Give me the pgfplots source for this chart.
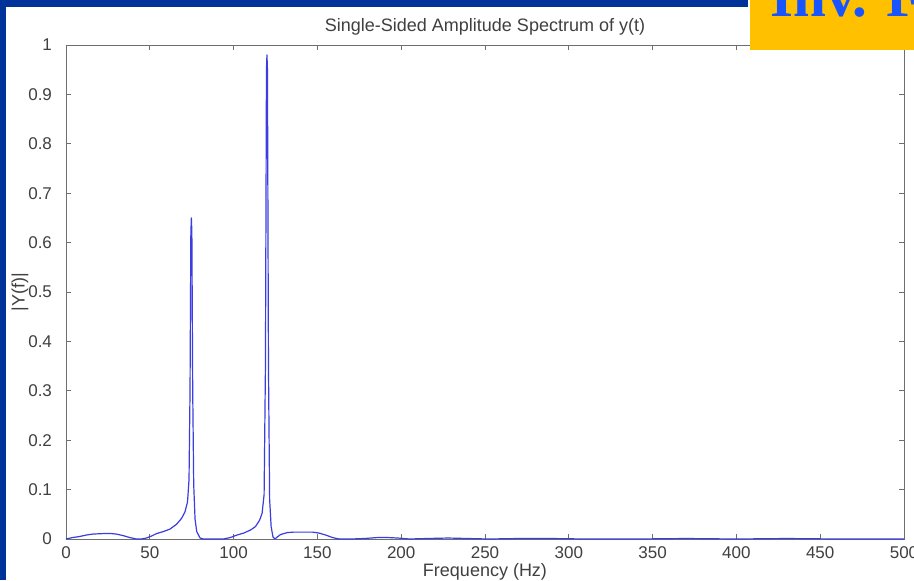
\documentclass[border=0pt]{standalone}
\usepackage{fontspec}
\setmainfont{Liberation Sans}
\newfontfamily\invfont{Liberation Serif}
\usepackage{pgfplots}
\pgfplotsset{compat=1.18}
\definecolor{bgblue}{RGB}{0,51,153}
\definecolor{boxyellow}{RGB}{255,192,0}
\definecolor{txtblue}{RGB}{25,85,255}
\definecolor{linecol}{RGB}{60,60,225}
\definecolor{framegray}{RGB}{110,110,110}
\begin{document}
\begin{tikzpicture}
\useasboundingbox (0,0) rectangle (457pt,-290pt);
\fill[white] (0,0) rectangle (457pt,-290pt);
\fill[bgblue] (0,0) rectangle (374pt,-3.5pt);
\fill[bgblue] (0,0) rectangle (3pt,-290pt);
\begin{axis}[
  scale only axis,
  width=419pt, height=247pt,
  at={(33pt,-269.5pt)}, anchor=south west,
  xmin=0, xmax=500, ymin=0, ymax=1,
  xtick={0,50,100,150,200,250,300,350,400,450,500},
  ytick={0,0.1,0.2,0.3,0.4,0.5,0.6,0.7,0.8,0.9,1},
  yticklabels={0,0.1,0.2,0.3,0.4,0.5,0.6,0.7,0.8,0.9,1},
  tick align=inside,
  major tick length=2.5pt,
  tick style={framegray, line width=0.4pt},
  axis line style={framegray, line width=0.5pt},
  tick label style={font=\fontsize{8.5}{10}\selectfont, text=black!75},
  /pgf/number format/assume math mode=true,
  yticklabel style={xshift=-3.5pt},
  xticklabel style={yshift=-0.5pt},
  title={Single-Sided Amplitude Spectrum of y(t)},
  title style={font=\fontsize{9}{10}\selectfont, text=black!75, at={(0.5,1)}, anchor=base, yshift=1pt},
  xlabel={Frequency (Hz)},
  xlabel style={font=\fontsize{9}{10}\selectfont, text=black!75, at={(0.5,0)}, anchor=base, yshift=-18.5pt},
  ylabel={|Y(f)|},
  ylabel style={font=\fontsize{9}{10}\selectfont, text=black!75, at={(0,0.5)}, anchor=center, yshift=23pt},
  clip=false,
]
\addplot[linecol, line width=0.6pt, line join=round] coordinates {
(0,0.000) (4,0.003) (8,0.005) (12,0.008) (16,0.010) (22,0.011) (27,0.011)
(30,0.010) (34,0.007) (38,0.003) (42,0.000) (45,0.000) (48,0.002) (51,0.006)
(54,0.011) (58,0.015) (62,0.020) (66,0.030) (69,0.042) (71,0.055) (72.5,0.075)
(73.4,0.12) (74.0,0.3) (74.5,0.62) (74.8,0.65) (75.1,0.62) (75.6,0.3) (76.2,0.11) (77,0.04) (78,0.015)
(80,0.002) (82,0.000) (88,0.000) (94,0.000) (98,0.003) (102,0.008) (106,0.012)
(110,0.018) (113,0.025) (115.5,0.038) (117,0.052) (118.2,0.09) (119.0,0.35)
(119.6,0.95) (119.9,0.98) (120.2,0.95) (120.8,0.35) (121.5,0.08) (122.4,0.025) (123.5,0.004) (124.7,0.000)
(126,0.004) (128,0.009) (132,0.013) (136,0.014) (142,0.014) (147,0.014)
(151,0.012) (155,0.008) (159,0.003) (163,0.000) (170,0.000) (178,0.001)
(186,0.003) (192,0.003) (198,0.002) (205,0.000) (215,0.001) (228,0.002)
(240,0.001) (252,0.000) (270,0.001) (290,0.001) (310,0.000) (340,0.000)
(370,0.001) (400,0.000) (430,0.001) (460,0.000) (500,0.000)
};
\end{axis}
\fill[boxyellow] (375pt,0) rectangle (457pt,-25pt);
\begin{scope}
\clip (375pt,0) rectangle (457pt,-25pt);
\node[anchor=base west, inner sep=0pt, text=txtblue] at (385pt,-8pt)
  {\invfont\bfseries\fontsize{29.5}{30}\selectfont Inv. Fourier};
\end{scope}
\end{tikzpicture}
\end{document}
